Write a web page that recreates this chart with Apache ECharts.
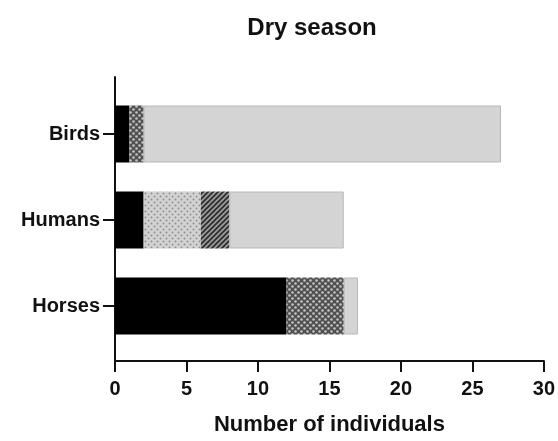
<!DOCTYPE html>
<html>
<head>
<meta charset="utf-8">
<script src="https://cdn.jsdelivr.net/npm/echarts@6/dist/echarts.min.js"></script>
<style>
  html, body { margin: 0; padding: 0; background: #fff; }
  #chart { width: 558px; height: 441px; }
</style>
</head>
<body>
<div id="chart"></div>
<script>
// categories, bottom to top
const categories = ['Horses', 'Humans', 'Birds']
const xTicks = [0, 5, 10, 15, 20, 25, 30]

// stacked segments per category (Horses, Humans, Birds)
const blackValues = [12, 2, 1]
const darkDotValues = [4, 0, 1]
const lightDotValues = [0, 4, 0]
const hatchValues = [0, 2, 0]
const greyValues = [1, 8, 25]

// small tiled patterns for the fills
function makePattern (draw, size) {
  const c = document.createElement('canvas')
  c.width = size
  c.height = size
  draw(c.getContext('2d'), size)
  return { image: c, repeat: 'repeat' }
}

const darkDot = makePattern((ctx, s) => {
  ctx.fillStyle = '#505050'
  ctx.fillRect(0, 0, s, s)
  ctx.fillStyle = '#c4c4c4'
  ctx.beginPath(); ctx.arc(1.5, 1.5, 1.3, 0, Math.PI * 2); ctx.fill()
  ctx.beginPath(); ctx.arc(4.5, 4.5, 1.3, 0, Math.PI * 2); ctx.fill()
}, 6)

const lightDot = makePattern((ctx, s) => {
  ctx.fillStyle = '#d2d2d2'
  ctx.fillRect(0, 0, s, s)
  ctx.fillStyle = '#909090'
  ctx.beginPath(); ctx.arc(1.5, 1.5, 1, 0, Math.PI * 2); ctx.fill()
  ctx.beginPath(); ctx.arc(4.5, 4.5, 1, 0, Math.PI * 2); ctx.fill()
}, 6)

const hatch = makePattern((ctx, s) => {
  ctx.fillStyle = '#9a9a9a'
  ctx.fillRect(0, 0, s, s)
  ctx.strokeStyle = '#2a2a2a'
  ctx.lineWidth = 1.6
  ctx.beginPath()
  ctx.moveTo(0, s); ctx.lineTo(s, 0)
  ctx.moveTo(-s / 2, s / 2); ctx.lineTo(s / 2, -s / 2)
  ctx.moveTo(s / 2, s * 1.5); ctx.lineTo(s * 1.5, s / 2)
  ctx.stroke()
}, 5)

function seg (name, values, color, border) {
  return {
    name: name,
    type: 'bar',
    stack: 'total',
    barWidth: 57,
    data: values,
    itemStyle: { color: color, borderColor: border || 'transparent', borderWidth: border ? 1 : 0 },
    emphasis: { disabled: true }
  }
}

const chart = echarts.init(document.getElementById('chart'))
const labelFont = { color: '#111', fontWeight: 'bold', fontFamily: 'Liberation Sans, Arial, sans-serif' }
const axisLine = { show: true, lineStyle: { color: '#111', width: 2 } }

chart.setOption({
  animation: false,
  title: {
    text: 'Dry season',
    left: 307,
    top: 11,
    textAlign: 'center',
    textStyle: Object.assign({ fontSize: 24 }, labelFont)
  },
  grid: [
    // bars
    { left: 115, right: 13, top: 91, bottom: 89 },
    // full-height frame for the y axis line
    { left: 115, right: 13, top: 77, bottom: 77 }
  ],
  xAxis: [
    {
      gridIndex: 0,
      type: 'value',
      min: 0,
      max: 30,
      interval: 5,
      offset: 12,
      name: 'Number of individuals',
      nameLocation: 'middle',
      nameGap: 53,
      nameTextStyle: Object.assign({ fontSize: 22 }, labelFont),
      axisLine: axisLine,
      axisTick: { show: true, length: 11, lineStyle: { color: '#111', width: 2 } },
      axisLabel: Object.assign({ fontSize: 20, margin: 18, formatter: (v) => xTicks.includes(v) ? String(v) : '' }, labelFont),
      splitLine: { show: false }
    },
    { gridIndex: 1, type: 'value', show: false, min: 0, max: 30 }
  ],
  yAxis: [
    {
      gridIndex: 0,
      type: 'category',
      data: categories,
      axisLine: axisLine,
      axisTick: { show: true, length: 12, alignWithLabel: true, lineStyle: { color: '#111', width: 2 } },
      axisLabel: Object.assign({ fontSize: 20, margin: 15 }, labelFont),
      splitLine: { show: false }
    },
    {
      gridIndex: 1,
      type: 'value',
      min: 0,
      max: 1,
      axisLine: axisLine,
      axisTick: { show: false },
      axisLabel: { show: false },
      splitLine: { show: false }
    }
  ],
  series: [
    seg('A', blackValues, '#000'),
    seg('B', darkDotValues, darkDot),
    seg('C', lightDotValues, lightDot),
    seg('D', hatchValues, hatch),
    seg('E', greyValues, '#d4d4d4', '#b8b8b8')
  ]
})
</script>
</body>
</html>
